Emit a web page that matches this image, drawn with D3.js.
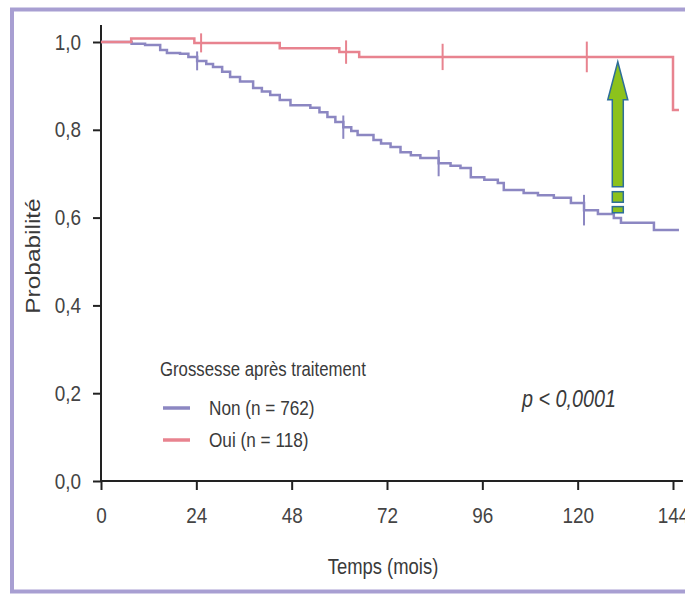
<!DOCTYPE html>
<html>
<head>
<meta charset="utf-8">
<script src="https://cdn.jsdelivr.net/npm/d3@7"></script>
<style>
  body { margin: 0; background: #fff; }
  svg text { font-family: "Liberation Sans", Arial, sans-serif; }
</style>
</head>
<body>
<div class="viz"></div>
<script>
var width = 685,
    height = 594,
    squeeze = 0.86;

// data (time in months, survival probability)
var nonTimes = [ 0, 7.7, 11.1, 14.9, 16.6, 19.9, 22.0, 24.2, 26.5, 28.2, 30.5, 32.5, 35.0, 38.3, 40.5, 42.6, 45.0, 47.7, 52.7, 55.0, 57.0, 59.0, 61.0, 63.0, 64.6, 68.6, 70.5, 72.9, 75.4, 78.0, 80.4, 85.0, 88.0, 90.5, 93.1, 96.5, 99.9, 101.4, 106.4, 110.0, 114.0, 118.3, 121.6, 125.1, 129.1, 130.9, 139.2, 145.5 ],
    nonSurv = [ 1.0, 0.996, 0.993, 0.982, 0.975, 0.973, 0.966, 0.957, 0.950, 0.943, 0.932, 0.920, 0.910, 0.895, 0.887, 0.879, 0.868, 0.856, 0.850, 0.840, 0.829, 0.818, 0.806, 0.797, 0.788, 0.777, 0.769, 0.761, 0.749, 0.742, 0.736, 0.724, 0.718, 0.713, 0.692, 0.686, 0.679, 0.663, 0.656, 0.651, 0.645, 0.633, 0.617, 0.608, 0.599, 0.588, 0.572, 0.572 ],
    nonCensor = [ 24.2, 61.0, 85.0, 121.6 ],
    ouiTimes = [ 0, 7.6, 23.5, 45, 60, 65, 144, 145.5 ],
    ouiSurv = [ 1.0, 1.008, 0.998, 0.986, 0.977, 0.966, 0.845, 0.845 ],
    ouiCensor = [ 25.2, 61.7, 86, 122.3 ],
    xTicks = [ 0, 24, 48, 72, 96, 120, 144 ],
    yTicks = [ 0, 0.2, 0.4, 0.6, 0.8, 1.0 ],
    seriesNames = [ "Non (n = 762)", "Oui (n = 118)" ],
    seriesColors = [ "#8c87c2", "#e8838f" ],
    legendTitle = "Grossesse après traitement",
    pText = "p < 0,0001",
    arrowT = 130.1,
    arrowTip = 0.955,
    arrowShaftEnd = 0.670,
    arrowBoxes = [ [ 0.659, 0.635 ], [ 0.625, 0.611 ] ];

var svg = d3.select( ".viz" )
    .append( "svg" )
    .attr( "width", width )
    .attr( "height", height );

// frame
svg.append( "rect" )
    .attr( "x", 12 ).attr( "y", 9.5 )
    .attr( "width", 700 ).attr( "height", 582 )
    .attr( "fill", "#fff" )
    .attr( "stroke", "#a89fd2" )
    .attr( "stroke-width", 4 );

var x = d3.scaleLinear().domain( [ 0, 144 ] ).range( [ 101, 673 ] ),
    y = d3.scaleLinear().domain( [ 0, 1 ] ).range( [ 481, 42 ] );

// narrow, tall text like the source picture
function addText( px, py, size, str, sx ) {
    return svg.append( "text" )
        .attr( "transform", "translate(" + px + "," + py + ") scale(" + ( sx || squeeze ) + ",1)" )
        .attr( "fill", "#3a3a3a" )
        .style( "font-size", size + "px" )
        .text( str );
}

// axes
var xAxis = svg.append( "g" )
    .attr( "transform", "translate(0," + y( 0 ) + ")" )
    .call( d3.axisBottom( x ).tickValues( xTicks ).tickSize( 9 ).tickPadding( 17 ).tickFormat( d3.format( "d" ) ) );

var yAxis = svg.append( "g" )
    .attr( "transform", "translate(" + x( 0 ) + ",0)" )
    .call( d3.axisLeft( y ).tickValues( yTicks ).tickSize( 8 ).tickPadding( 12 )
        .tickFormat( function( d ) { return d3.format( ".1f" )( d ).replace( ".", "," ); } ) );

[ xAxis, yAxis ].forEach( function( g ) {
    g.select( ".domain" ).remove();
    g.selectAll( ".tick line" ).attr( "stroke", "#222" ).attr( "stroke-width", 2 );
    g.selectAll( ".tick text" ).attr( "fill", "#444" ).style( "font-size", "22px" );
} );
xAxis.selectAll( ".tick text" ).attr( "transform", "scale(" + squeeze + ",1)" );
yAxis.selectAll( ".tick text" )
    .attr( "x", -20 / squeeze )
    .attr( "transform", "scale(" + squeeze + ",1)" );

svg.append( "line" )
    .attr( "x1", x( 0 ) ).attr( "x2", x( 0 ) )
    .attr( "y1", y( 0 ) ).attr( "y2", y( 1.039 ) )
    .attr( "stroke", "#222" ).attr( "stroke-width", 2 );
svg.append( "line" )
    .attr( "x1", x( 0 ) - 1 ).attr( "x2", x( 146.5 ) )
    .attr( "y1", y( 0 ) ).attr( "y2", y( 0 ) )
    .attr( "stroke", "#222" ).attr( "stroke-width", 2 );

// axis titles
addText( 383, 574, 22.5, "Temps (mois)", 0.82 ).attr( "text-anchor", "middle" );

svg.append( "text" )
    .attr( "transform", "translate(40,256) rotate(-90) scale(" + ( 1 / squeeze ) + ",1)" )
    .attr( "text-anchor", "middle" )
    .attr( "fill", "#3a3a3a" )
    .style( "font-size", "21px" )
    .text( "Probabilité" );

// curves
var stepLine = d3.line()
    .x( function( d ) { return x( d[ 0 ] ); } )
    .y( function( d ) { return y( d[ 1 ] ); } )
    .curve( d3.curveStepAfter );

var series = [
    { times: nonTimes, surv: nonSurv, censor: nonCensor, color: seriesColors[ 0 ] },
    { times: ouiTimes, surv: ouiSurv, censor: ouiCensor, color: seriesColors[ 1 ] }
];

function survAt( s, t ) {
    var v = s.surv[ 0 ];
    for ( var i = 0; i < s.times.length; i++ ) {
        if ( s.times[ i ] <= t ) v = s.surv[ i ];
    }
    return v;
}

series.forEach( function( s ) {
    svg.append( "path" )
        .datum( d3.zip( s.times, s.surv ) )
        .attr( "d", stepLine )
        .attr( "fill", "none" )
        .attr( "stroke", s.color )
        .attr( "stroke-width", 2.5 );

    svg.selectAll( null )
        .data( s.censor )
        .enter()
        .append( "line" )
        .attr( "x1", function( d ) { return x( d ); } )
        .attr( "x2", function( d ) { return x( d ); } )
        .attr( "y1", function( d ) { return y( survAt( s, d ) ) - ( 8 + d * 0.06 ); } )
        .attr( "y2", function( d ) { return y( survAt( s, d ) ) + ( 8 + d * 0.06 ); } )
        .attr( "stroke", s.color )
        .attr( "stroke-width", 2 );
} );

// green arrow
var ax = x( arrowT ),
    tipY = y( arrowTip ),
    headY = tipY + 38,
    shaftY = y( arrowShaftEnd );
svg.append( "path" )
    .attr( "d", "M" + ax + "," + tipY +
        "L" + ( ax + 10 ) + "," + headY +
        "L" + ( ax + 5.5 ) + "," + headY +
        "L" + ( ax + 5.5 ) + "," + shaftY +
        "L" + ( ax - 5.5 ) + "," + shaftY +
        "L" + ( ax - 5.5 ) + "," + headY +
        "L" + ( ax - 10 ) + "," + headY + "Z" )
    .attr( "fill", "#8cc21c" )
    .attr( "stroke", "#2d6e98" )
    .attr( "stroke-width", 1.5 );

svg.selectAll( ".abox" )
    .data( arrowBoxes )
    .enter()
    .append( "rect" )
    .attr( "class", "abox" )
    .attr( "x", ax - 5.5 )
    .attr( "width", 11 )
    .attr( "y", function( d ) { return y( d[ 0 ] ); } )
    .attr( "height", function( d ) { return y( d[ 1 ] ) - y( d[ 0 ] ); } )
    .attr( "fill", "#8cc21c" )
    .attr( "stroke", "#2d6e98" )
    .attr( "stroke-width", 1.5 );

// legend
addText( 160, 376, 19.5, legendTitle );

seriesNames.forEach( function( name, i ) {
    var ly = 408 + i * 32;
    svg.append( "line" )
        .attr( "x1", 163 ).attr( "x2", 190 )
        .attr( "y1", ly ).attr( "y2", ly )
        .attr( "stroke", seriesColors[ i ] )
        .attr( "stroke-width", 3.5 );
    addText( 209, ly + 7, 20, name );
} );

addText( 522, 407, 23, pText ).style( "font-style", "italic" );
</script>
</body>
</html>
